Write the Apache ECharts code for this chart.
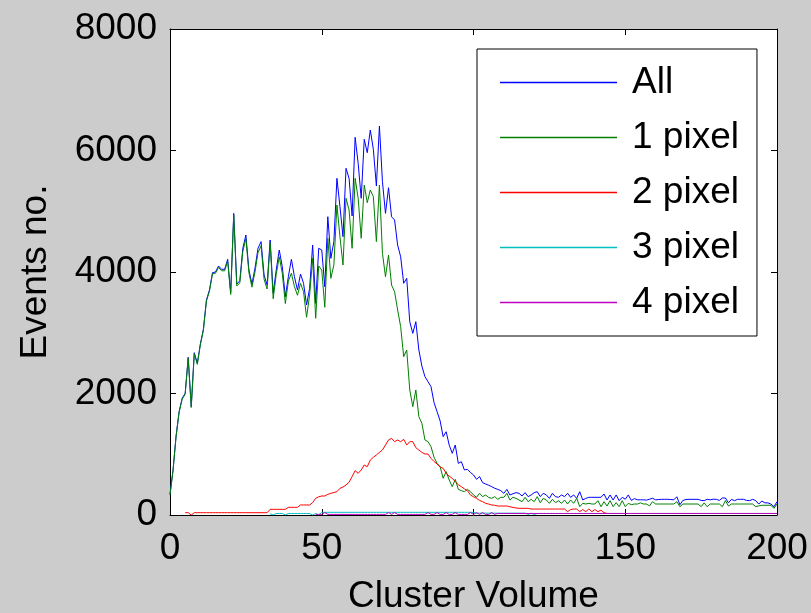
<!DOCTYPE html>
<html>
<head>
<meta charset="utf-8">
<script src="https://cdn.jsdelivr.net/npm/echarts@6/dist/echarts.min.js"></script>
<style>
  html, body { margin: 0; padding: 0; background: #cccccc; }
  #chart { width: 811px; height: 613px; }
</style>
</head>
<body>
<div id="chart"></div>
<script>
// Cluster volume runs 0..200 in unit steps; each count array below is indexed from volumeStart.
const volumeStart = 0;
const xTicks = { min: 0, max: 200, interval: 50 };
const yTicks = { min: 0, max: 8000, interval: 2000 };

const seriesNames = ['All', '1 pixel', '2 pixel', '3 pixel', '4 pixel'];
const seriesColors = ['#0000ff', '#008000', '#ff0000', '#00bfbf', '#bf00bf'];

const countsAll = [
  340, 740, 1300, 1700, 1920, 2003, 2596, 1783, 2672, 2497,
  2815, 3057, 3539, 3704, 3990, 4000, 4099, 4044, 4044, 4209,
  3660, 4965, 3800, 3857, 4390, 4609, 4033, 3802, 4060, 4390,
  4500, 3950, 3786, 4527, 3649, 4033, 4362, 4088, 3594, 3923,
  4209, 3923, 3704, 3967, 3814, 3457, 3730, 4444, 3484, 4390,
  4362, 3758, 4910, 4225, 4499, 5542, 5075, 4581, 5707, 5542,
  4922, 6217, 5789, 5213, 6184, 5964, 6337, 6020, 5416, 6403,
  5487, 4966, 5388, 4910, 4856, 4444, 4250, 3814, 3896, 3182,
  2990, 3182, 2716, 2450, 2277, 2195, 2113, 1850, 1701, 1550,
  1289, 1371, 1150, 1015, 1152, 850, 878, 741, 752, 700,
  659, 587, 631, 532, 510, 490, 466, 440, 422, 400,
  357, 422, 329, 350, 368, 357, 313, 368, 302, 330,
  368, 384, 302, 357, 330, 274, 357, 302, 291, 330,
  302, 357, 291, 330, 274, 384, 247, 274, 291, 291,
  291, 291, 291, 346, 247, 330, 247, 330, 236, 291,
  260, 330, 240, 270, 250, 250, 250, 245, 260, 275,
  250, 255, 258, 258, 258, 255, 250, 300, 170, 240,
  255, 258, 258, 258, 258, 240, 236, 258, 250, 260,
  258, 240, 280, 280, 200, 258, 236, 258, 258, 258,
  240, 236, 258, 236, 180, 230, 200, 200, 180, 137,
  219
];

const countsOnePixel = [
  330, 730, 1290, 1690, 1905, 1990, 2580, 1770, 2655, 2480,
  2800, 3040, 3520, 3685, 3970, 3980, 4075, 4020, 4020, 4180,
  3630, 4935, 3770, 3820, 4340, 4550, 3990, 3750, 4000, 4320,
  4430, 3880, 3720, 4480, 3560, 3960, 4250, 3980, 3480, 3850,
  3980, 3760, 3617, 3814, 3676, 3254, 3620, 4225, 3237, 4100,
  4033, 3419, 4555, 3896, 4115, 5103, 4581, 4115, 5213, 5020,
  4390, 5542, 5213, 4555, 5432, 5141, 5350, 5240, 4500, 5432,
  4308, 3923, 4280, 3786, 3676, 3374, 3100, 2606, 2716, 2058,
  1783, 2058, 1618, 1509, 1235, 1207, 1125, 950, 850, 796,
  604, 714, 576, 466, 587, 422, 400, 384, 422, 384,
  330, 291, 357, 302, 329, 290, 274, 302, 258, 291,
  291, 357, 247, 291, 274, 247, 219, 291, 219, 258,
  219, 302, 203, 274, 247, 192, 258, 203, 236, 192,
  247, 181, 247, 192, 274, 137, 192, 181, 192, 181,
  181, 236, 137, 219, 148, 236, 137, 203, 137, 236,
  137, 192, 170, 181, 180, 200, 181, 181, 150, 219,
  181, 181, 181, 181, 181, 181, 181, 219, 137, 181,
  181, 181, 181, 181, 181, 137, 200, 137, 181, 181,
  181, 181, 137, 236, 148, 181, 181, 181, 181, 181,
  181, 181, 181, 137, 150, 160, 160, 160, 160, 110,
  181
];

const countsTwoPixel = [
  null, null, null, null, null, 38, 38, 0, 38, 38,
  38, 38, 38, 38, 38, 38, 38, 38, 38, 38,
  38, 38, 38, 38, 38, 38, 38, 38, 38, 38,
  38, 38, 38, 93, 93, 93, 93, 93, 93, 126,
  126, 126, 126, 165, 165, 165, 165, 203, 274, 300,
  313, 313, 340, 357, 370, 384, 439, 460, 494, 540,
  631, 730, 686, 741, 823, 795, 905, 950, 988, 1030,
  1070, 1152, 1235, 1262, 1207, 1235, 1207, 1246, 1152, 1207,
  1207, 1108, 1070, 1030, 1004, 1004, 933, 880, 840, 790,
  768, 686, 640, 604, 549, 500, 466, 430, 400, 329,
  300, 274, 240, 219, 192, 180, 165, 160, 148, 148,
  148, 148, 135, 126, 115, 110, 110, 110, 110, 98,
  98, 98, 98, 98, 98, 98, 98, 98, 98, 98,
  98, 55, 90, 98, 98, 55, 90, 55, 98, 55,
  90, 55, 80, 38, 25, 25, 25, 25, 25, 25,
  25, 25, 25, 25, 25, 25, 25, 25, 25, 25,
  25, 25, 25, 25, 25, 25, 25, 25, 25, 25,
  25, 25, 25, 25, 25, 25, 25, 25, 25, 25,
  25, 25, 25, 25, 25, 25, 25, 25, 25, 25,
  25, 25, 25, 25, 25, 25, 25, 25, 25, 25,
  25
];

const countsThreePixel = [
  null, null, null, null, null, null, null, null, null, null,
  null, null, null, null, null, null, null, null, null, null,
  null, null, null, null, null, null, null, null, null, null,
  null, null, null, 20, 0, 25, 25, 25, 0, 25,
  25, 25, 25, 25, 25, 25, 25, 0, 25, 0,
  44, 44, 44, 44, 44, 44, 44, 44, 44, 44,
  44, 44, 44, 44, 44, 44, 44, 44, 44, 44,
  44, 44, 44, 44, 44, 44, 44, 44, 44, 44,
  44, 44, 44, 44, 44, 44, 44, 44, 44, 44,
  44, 44, 44, 44, 44, 44, 44, 44, 44, 44,
  40, 30, 30, 30, 30, 30, 30, 30, 30, 30,
  30, 30, 30, 30, 30, 30, 30, 30, 10, 30,
  10, 25, 25, 25, 25, 25, 25, 25, 25, 25,
  25, 25, 25, 25, 25, 25, 25, 25, 25, 25,
  25, 25, 25, 25, 25, 25, 25, 25, 25, 25,
  25, 25, 25, 25, 25, 25, 25, 25, 25, 25,
  25, 25, 25, 25, 25, 25, 25, 25, 25, 25,
  25, 25, 25, 25, 25, 25, 25, 25, 25, 25,
  25, 25, 25, 25, 25, 25, 25, 25, 25, 25,
  25, 25, 25, 25, 25, 25, 25, 25, 25, 25,
  25
];

const countsFourPixel = [
  null, null, null, null, null, null, null, null, null, null,
  null, null, null, null, null, null, null, null, null, null,
  null, null, null, null, null, null, null, null, null, null,
  null, null, null, null, null, null, null, null, null, null,
  null, null, null, null, null, null, null, null, 10, 10,
  10, 40, 10, 10, 10, 10, 10, 10, 10, 10,
  10, 10, 10, 10, 10, 10, 10, 10, 10, 10,
  10, 10, 40, 10, 40, 10, 10, 10, 10, 10,
  10, 10, 10, 10, 10, 40, 10, 10, 40, 10,
  10, 40, 10, 10, 40, 10, 10, 10, 10, 40,
  10, 40, 10, 40, 10, 10, 40, 10, 25, 25,
  25, 25, 25, 25, 25, 25, 25, 25, 25, 25,
  25, 25, 25, 25, 25, 25, 25, 25, 25, 25,
  25, 25, 25, 25, 25, 25, 25, 25, 25, 25,
  25, 25, 25, 25, 25, 25, 25, 25, 25, 25,
  25, 25, 25, 25, 25, 25, 25, 25, 25, 25,
  25, 25, 25, 25, 25, 25, 25, 25, 25, 25,
  25, 25, 25, 25, 25, 25, 25, 25, 25, 25,
  25, 25, 25, 25, 25, 25, 25, 25, 25, 25,
  25, 25, 25, 25, 25, 25, 25, 25, 25, 25,
  25
];

const seriesCounts = [countsAll, countsOnePixel, countsTwoPixel, countsThreePixel, countsFourPixel];

const FONT = '"Liberation Sans", Arial, Helvetica, sans-serif';

function toPairs(arr) {
  return arr.map((v, i) => [volumeStart + i, v]);
}

const chart = echarts.init(document.getElementById('chart'), null, { renderer: 'canvas' });

const tickStyle = { show: true, inside: true, length: 6, lineStyle: { color: '#000', width: 1 } };
const lineStyleAxis = { show: true, onZero: false, lineStyle: { color: '#000', width: 1 } };
const plainNumber = (v) => String(v);

chart.setOption({
  backgroundColor: '#cccccc',
  animation: false,
  textStyle: { fontFamily: FONT, color: '#000' },
  grid: {
    left: 170, top: 29, width: 607, height: 486,
    outerBoundsMode: 'none',
    containLabel: false,
    show: true, backgroundColor: '#ffffff', borderWidth: 0
  },
  legend: {
    orient: 'vertical',
    left: 477, top: 49,
    padding: [15, 18, 15, 23],
    itemGap: 18,
    itemWidth: 117,
    itemHeight: 1.5,
    icon: 'rect',
    backgroundColor: '#ffffff',
    borderColor: '#000000',
    borderWidth: 1,
    textStyle: { fontFamily: FONT, fontSize: 37, lineHeight: 37, color: '#000', padding: [0, 0, 0, 10] },
    data: seriesNames
  },
  xAxis: [
    {
      type: 'value', min: xTicks.min, max: xTicks.max, interval: xTicks.interval,
      position: 'bottom',
      name: 'Cluster Volume', nameLocation: 'middle', nameGap: 63,
      nameTextStyle: { fontFamily: FONT, fontSize: 37, color: '#000' },
      axisLine: lineStyleAxis, axisTick: tickStyle,
      axisLabel: { fontFamily: FONT, fontSize: 37, color: '#000', margin: 15, formatter: plainNumber },
      splitLine: { show: false }
    },
    {
      type: 'value', min: xTicks.min, max: xTicks.max, interval: xTicks.interval,
      position: 'top',
      axisLine: lineStyleAxis, axisTick: tickStyle,
      axisLabel: { show: false }, splitLine: { show: false }
    }
  ],
  yAxis: [
    {
      type: 'value', min: yTicks.min, max: yTicks.max, interval: yTicks.interval,
      position: 'left',
      name: 'Events no.', nameLocation: 'middle', nameGap: 116,
      nameTextStyle: { fontFamily: FONT, fontSize: 37, color: '#000' },
      axisLine: lineStyleAxis, axisTick: tickStyle,
      axisLabel: { fontFamily: FONT, fontSize: 37, color: '#000', margin: 13, formatter: plainNumber },
      splitLine: { show: false }
    },
    {
      type: 'value', min: yTicks.min, max: yTicks.max, interval: yTicks.interval,
      position: 'right',
      axisLine: lineStyleAxis, axisTick: tickStyle,
      axisLabel: { show: false }, splitLine: { show: false }
    }
  ],
  series: seriesNames.map((name, k) => ({
    name: name,
    type: 'line',
    xAxisIndex: 0,
    yAxisIndex: 0,
    data: toPairs(seriesCounts[k]),
    showSymbol: false,
    symbol: 'none',
    connectNulls: false,
    color: seriesColors[k],
    lineStyle: { color: seriesColors[k], width: 1 },
    emphasis: { disabled: true }
  }))
});
</script>
</body>
</html>
